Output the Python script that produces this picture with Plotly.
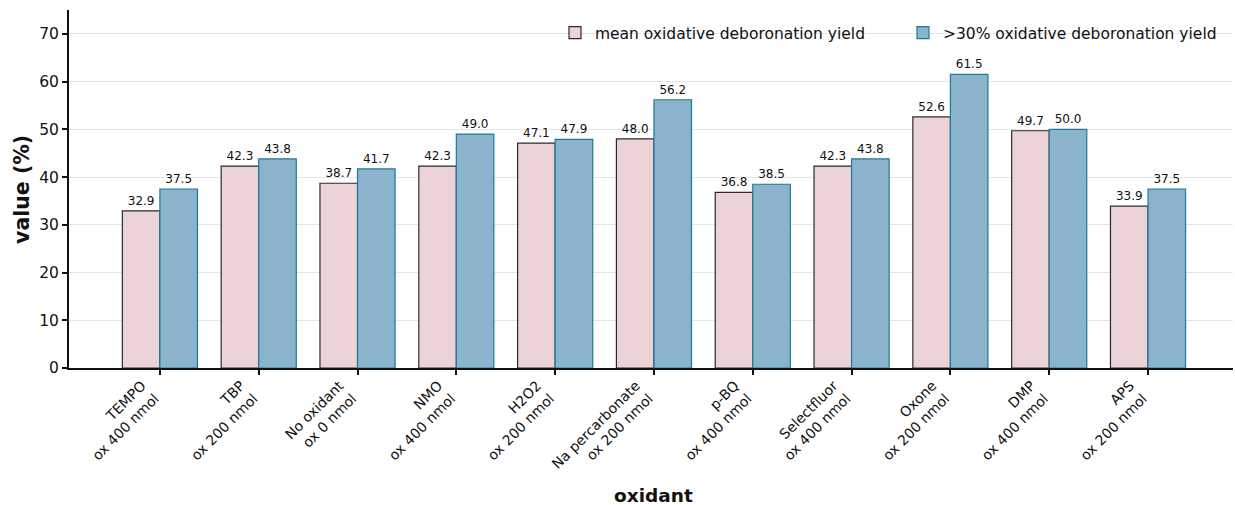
import plotly.graph_objects as go

categories = ["TEMPO<br>ox 400 nmol", "TBP<br>ox 200 nmol", "No oxidant<br>ox 0 nmol",
              "NMO<br>ox 400 nmol", "H2O2<br>ox 200 nmol", "Na percarbonate<br>ox 200 nmol",
              "p-BQ<br>ox 400 nmol", "Selectfluor<br>ox 400 nmol", "Oxone<br>ox 200 nmol",
              "DMP<br>ox 400 nmol", "APS<br>ox 200 nmol"]
mean_yield = [32.9, 42.3, 38.7, 42.3, 47.1, 48.0, 36.8, 42.3, 52.6, 49.7, 33.9]
over30_yield = [37.5, 43.8, 41.7, 49.0, 47.9, 56.2, 38.5, 43.8, 61.5, 50.0, 37.5]
y_ticks = [0, 10, 20, 30, 40, 50, 60, 70]

xpos = list(range(len(categories)))
FONT = "DejaVu Sans"

# approximate DejaVu Sans advance widths (units per 2048 em) to right-align label lines
_W = {" ": 651, "a": 1255, "b": 1300, "c": 1126, "d": 1300, "e": 1260, "f": 721, "g": 1300,
      "h": 1298, "i": 569, "j": 569, "k": 1186, "l": 569, "m": 1995, "n": 1298, "o": 1253,
      "p": 1300, "q": 1300, "r": 842, "s": 1067, "t": 803, "u": 1298, "v": 1212, "w": 1675,
      "x": 1212, "y": 1212, "z": 1075, "A": 1401, "B": 1405, "C": 1430, "D": 1577, "E": 1294,
      "F": 1178, "G": 1587, "H": 1540, "I": 604, "M": 1767, "N": 1532, "O": 1612, "P": 1235,
      "Q": 1612, "R": 1423, "S": 1300, "T": 1251, "X": 1403, "-": 739}


def _width(s):
    return sum(_W.get(c, 1303) for c in s)


def right_align(label):
    lines = label.split("<br>")
    wmax = max(_width(l) for l in lines)
    out = []
    for l in lines:
        n = round((wmax - _width(l)) / 651)
        out.append("\u00a0" * n + l)
    return "<br>".join(out)


tick_text = [right_align(c) for c in categories]

fig = go.Figure()
fig.add_trace(go.Bar(
    x=xpos, y=mean_yield, name="mean oxidative deboronation yield",
    marker=dict(color="#EBD3D8", line=dict(color="#2b2b2b", width=1.2)),
    text=[f"{v:.1f}" for v in mean_yield], textposition="outside",
    textfont=dict(size=12, color="#111"), cliponaxis=False, legend="legend",
))
fig.add_trace(go.Bar(
    x=xpos, y=over30_yield, name=">30% oxidative deboronation yield",
    marker=dict(color="#8BB3CC", line=dict(color="#1D7A9A", width=1.2)),
    text=[f"{v:.1f}" for v in over30_yield], textposition="outside",
    textfont=dict(size=12, color="#111"), cliponaxis=False, legend="legend2",
))

leg_common = dict(orientation="h", y=0.983, yanchor="top", xanchor="left",
                  font=dict(size=15.5), bgcolor="rgba(255,255,255,0)", itemwidth=30)

fig.update_layout(
    width=1235, height=505,
    barmode="group", bargap=0.24, bargroupgap=0,
    plot_bgcolor="white", paper_bgcolor="white",
    font=dict(family=FONT, size=15, color="#111"),
    margin=dict(l=69, r=2, t=10, b=137),
    showlegend=True,
    legend=dict(x=0.4175, **leg_common),
    legend2=dict(x=0.7165, **leg_common),
    uniformtext=dict(minsize=12, mode="show"),
    annotations=[
        dict(text="<b>value (%)</b>", xref="paper", yref="paper", x=-0.0404, y=0.5,
             xanchor="center", yanchor="middle", textangle=-90, showarrow=False,
             font=dict(size=20.5, color="#111")),
        dict(text="<b>oxidant</b>", xref="paper", yref="paper", x=0.502, y=-0.355,
             xanchor="center", yanchor="middle", showarrow=False,
             font=dict(size=18.5, color="#111")),
    ],
)
fig.update_xaxes(
    range=[-0.92, 10.86], tickmode="array", tickvals=xpos, ticktext=tick_text,
    tickangle=-45, ticks="outside", ticklen=5, tickwidth=1.5, tickcolor="#111",
    showline=True, linecolor="#111", linewidth=2, showgrid=False, zeroline=False,
    tickfont=dict(size=14), automargin=False,
    ticklabelshift=-18, ticklabelstandoff=-3,
)
fig.update_yaxes(
    range=[0, 75], tickmode="array", tickvals=y_ticks,
    ticks="outside", ticklen=5, tickwidth=1.5, tickcolor="#111",
    showline=True, linecolor="#111", linewidth=2,
    showgrid=True, gridcolor="#E5E5E5", gridwidth=1, zeroline=False,
    tickfont=dict(size=15.5), automargin=False,
)

fig.write_html("out.html", config={"displayModeBar": False},
               post_script="document.body.style.margin='0';document.body.style.padding='0';")
